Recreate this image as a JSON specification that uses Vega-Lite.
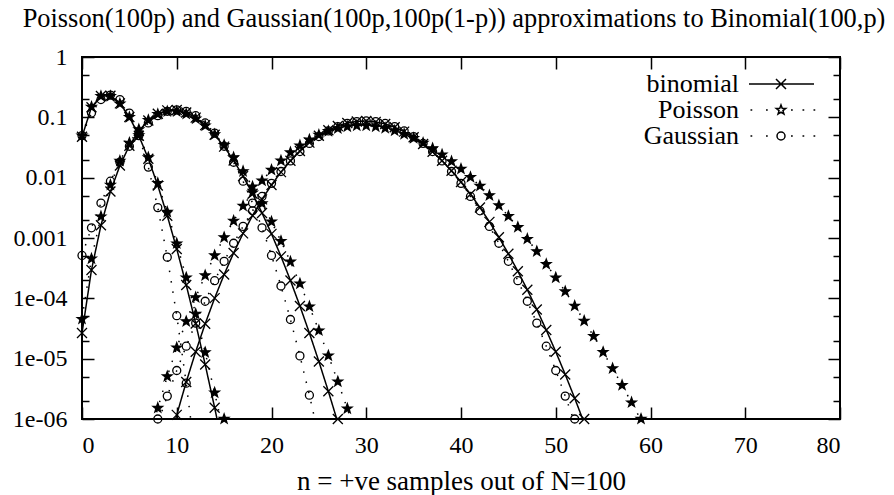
{
"$schema": "https://vega.github.io/schema/vega-lite/v6.json",
"width": 758, "height": 362,
"autosize": {"type": "none"},
"padding": {"left": 82, "top": 57, "right": 54, "bottom": 76},
"background": "white",
"config": {
  "view": {"stroke": "black", "strokeWidth": 2},
  "font": "Liberation Serif",
  "axis": {"grid": false, "domain": false, "tickColor": "black", "tickWidth": 1.5, "labelColor": "black", "labelFont": "Liberation Serif", "labelFontSize": 24, "titleFont": "Liberation Serif", "titleFontSize": 27, "titleFontWeight": "normal", "titleColor": "black"}
},
"title": {"text": "Poisson(100p) and Gaussian(100p,100p(1-p)) approximations to Binomial(100,p)", "font": "Liberation Serif", "fontSize": 26.4, "fontWeight": "normal", "color": "black", "anchor": "middle", "frame": "group", "offset": 13, "baseline": "alphabetic", "dx": -7, "dy": 21},
"data": {"values": [
{"s":"binomial","p":0.03,"n":0,"v":0.04755},{"s":"binomial","p":0.03,"n":1,"v":0.1471},{"s":"binomial","p":0.03,"n":2,"v":0.2252},{"s":"binomial","p":0.03,"n":3,"v":0.2275},{"s":"binomial","p":0.03,"n":4,"v":0.1706},{"s":"binomial","p":0.03,"n":5,"v":0.1013},{"s":"binomial","p":0.03,"n":6,"v":0.04961},{"s":"binomial","p":0.03,"n":7,"v":0.0206},{"s":"binomial","p":0.03,"n":8,"v":0.007408},{"s":"binomial","p":0.03,"n":9,"v":0.002342},{"s":"binomial","p":0.03,"n":10,"v":0.0006591},{"s":"binomial","p":0.03,"n":11,"v":0.0001668},{"s":"binomial","p":0.03,"n":12,"v":0.00003826},{"s":"binomial","p":0.03,"n":13,"v":0.000008009},{"s":"binomial","p":0.03,"n":14,"v":0.000001539},{"s":"binomial","p":0.03,"n":15,"v":2.73e-7},
{"s":"Poisson","p":0.03,"n":0,"v":0.04979},{"s":"Poisson","p":0.03,"n":1,"v":0.1494},{"s":"Poisson","p":0.03,"n":2,"v":0.224},{"s":"Poisson","p":0.03,"n":3,"v":0.224},{"s":"Poisson","p":0.03,"n":4,"v":0.168},{"s":"Poisson","p":0.03,"n":5,"v":0.1008},{"s":"Poisson","p":0.03,"n":6,"v":0.05041},{"s":"Poisson","p":0.03,"n":7,"v":0.0216},{"s":"Poisson","p":0.03,"n":8,"v":0.008102},{"s":"Poisson","p":0.03,"n":9,"v":0.0027},{"s":"Poisson","p":0.03,"n":10,"v":0.0008102},{"s":"Poisson","p":0.03,"n":11,"v":0.000221},{"s":"Poisson","p":0.03,"n":12,"v":0.00005524},{"s":"Poisson","p":0.03,"n":13,"v":0.00001275},{"s":"Poisson","p":0.03,"n":14,"v":0.000002732},{"s":"Poisson","p":0.03,"n":15,"v":5.463e-7},{"s":"Poisson","p":0.03,"n":16,"v":1.024e-7},
{"s":"Gaussian","p":0.03,"n":0,"v":0.04982},{"s":"Gaussian","p":0.03,"n":1,"v":0.1176},{"s":"Gaussian","p":0.03,"n":2,"v":0.1969},{"s":"Gaussian","p":0.03,"n":3,"v":0.2339},{"s":"Gaussian","p":0.03,"n":4,"v":0.1969},{"s":"Gaussian","p":0.03,"n":5,"v":0.1176},{"s":"Gaussian","p":0.03,"n":6,"v":0.04982},{"s":"Gaussian","p":0.03,"n":7,"v":0.01496},{"s":"Gaussian","p":0.03,"n":8,"v":0.003188},{"s":"Gaussian","p":0.03,"n":9,"v":0.0004815},{"s":"Gaussian","p":0.03,"n":10,"v":0.00005159},{"s":"Gaussian","p":0.03,"n":11,"v":0.000003919},{"s":"Gaussian","p":0.03,"n":12,"v":2.112e-7},
{"s":"binomial","p":0.1,"n":0,"v":0.00002656},{"s":"binomial","p":0.1,"n":1,"v":0.0002951},{"s":"binomial","p":0.1,"n":2,"v":0.001623},{"s":"binomial","p":0.1,"n":3,"v":0.005892},{"s":"binomial","p":0.1,"n":4,"v":0.01588},{"s":"binomial","p":0.1,"n":5,"v":0.03387},{"s":"binomial","p":0.1,"n":6,"v":0.05958},{"s":"binomial","p":0.1,"n":7,"v":0.08889},{"s":"binomial","p":0.1,"n":8,"v":0.1148},{"s":"binomial","p":0.1,"n":9,"v":0.1304},{"s":"binomial","p":0.1,"n":10,"v":0.1319},{"s":"binomial","p":0.1,"n":11,"v":0.1199},{"s":"binomial","p":0.1,"n":12,"v":0.09879},{"s":"binomial","p":0.1,"n":13,"v":0.0743},{"s":"binomial","p":0.1,"n":14,"v":0.05131},{"s":"binomial","p":0.1,"n":15,"v":0.03268},{"s":"binomial","p":0.1,"n":16,"v":0.01929},{"s":"binomial","p":0.1,"n":17,"v":0.01059},{"s":"binomial","p":0.1,"n":18,"v":0.005427},{"s":"binomial","p":0.1,"n":19,"v":0.002603},{"s":"binomial","p":0.1,"n":20,"v":0.001171},{"s":"binomial","p":0.1,"n":21,"v":0.0004957},{"s":"binomial","p":0.1,"n":22,"v":0.0001978},{"s":"binomial","p":0.1,"n":23,"v":0.00007452},{"s":"binomial","p":0.1,"n":24,"v":0.00002656},{"s":"binomial","p":0.1,"n":25,"v":0.000008973},{"s":"binomial","p":0.1,"n":26,"v":0.000002875},{"s":"binomial","p":0.1,"n":27,"v":8.758e-7},{"s":"binomial","p":0.1,"n":28,"v":2.54e-7},
{"s":"Poisson","p":0.1,"n":0,"v":0.0000454},{"s":"Poisson","p":0.1,"n":1,"v":0.000454},{"s":"Poisson","p":0.1,"n":2,"v":0.00227},{"s":"Poisson","p":0.1,"n":3,"v":0.007567},{"s":"Poisson","p":0.1,"n":4,"v":0.01892},{"s":"Poisson","p":0.1,"n":5,"v":0.03783},{"s":"Poisson","p":0.1,"n":6,"v":0.06306},{"s":"Poisson","p":0.1,"n":7,"v":0.09008},{"s":"Poisson","p":0.1,"n":8,"v":0.1126},{"s":"Poisson","p":0.1,"n":9,"v":0.1251},{"s":"Poisson","p":0.1,"n":10,"v":0.1251},{"s":"Poisson","p":0.1,"n":11,"v":0.1137},{"s":"Poisson","p":0.1,"n":12,"v":0.09478},{"s":"Poisson","p":0.1,"n":13,"v":0.07291},{"s":"Poisson","p":0.1,"n":14,"v":0.05208},{"s":"Poisson","p":0.1,"n":15,"v":0.03472},{"s":"Poisson","p":0.1,"n":16,"v":0.0217},{"s":"Poisson","p":0.1,"n":17,"v":0.01276},{"s":"Poisson","p":0.1,"n":18,"v":0.007091},{"s":"Poisson","p":0.1,"n":19,"v":0.003732},{"s":"Poisson","p":0.1,"n":20,"v":0.001866},{"s":"Poisson","p":0.1,"n":21,"v":0.0008886},{"s":"Poisson","p":0.1,"n":22,"v":0.0004039},{"s":"Poisson","p":0.1,"n":23,"v":0.0001756},{"s":"Poisson","p":0.1,"n":24,"v":0.00007317},{"s":"Poisson","p":0.1,"n":25,"v":0.00002927},{"s":"Poisson","p":0.1,"n":26,"v":0.00001126},{"s":"Poisson","p":0.1,"n":27,"v":0.000004169},{"s":"Poisson","p":0.1,"n":28,"v":0.000001489},{"s":"Poisson","p":0.1,"n":29,"v":5.135e-7},
{"s":"Gaussian","p":0.1,"n":0,"v":0.0005141},{"s":"Gaussian","p":0.1,"n":1,"v":0.001477},{"s":"Gaussian","p":0.1,"n":2,"v":0.003799},{"s":"Gaussian","p":0.1,"n":3,"v":0.008741},{"s":"Gaussian","p":0.1,"n":4,"v":0.018},{"s":"Gaussian","p":0.1,"n":5,"v":0.03316},{"s":"Gaussian","p":0.1,"n":6,"v":0.05467},{"s":"Gaussian","p":0.1,"n":7,"v":0.08066},{"s":"Gaussian","p":0.1,"n":8,"v":0.1065},{"s":"Gaussian","p":0.1,"n":9,"v":0.1258},{"s":"Gaussian","p":0.1,"n":10,"v":0.133},{"s":"Gaussian","p":0.1,"n":11,"v":0.1258},{"s":"Gaussian","p":0.1,"n":12,"v":0.1065},{"s":"Gaussian","p":0.1,"n":13,"v":0.08066},{"s":"Gaussian","p":0.1,"n":14,"v":0.05467},{"s":"Gaussian","p":0.1,"n":15,"v":0.03316},{"s":"Gaussian","p":0.1,"n":16,"v":0.018},{"s":"Gaussian","p":0.1,"n":17,"v":0.008741},{"s":"Gaussian","p":0.1,"n":18,"v":0.003799},{"s":"Gaussian","p":0.1,"n":19,"v":0.001477},{"s":"Gaussian","p":0.1,"n":20,"v":0.0005141},{"s":"Gaussian","p":0.1,"n":21,"v":0.0001601},{"s":"Gaussian","p":0.1,"n":22,"v":0.00004461},{"s":"Gaussian","p":0.1,"n":23,"v":0.00001112},{"s":"Gaussian","p":0.1,"n":24,"v":0.000002482},{"s":"Gaussian","p":0.1,"n":25,"v":4.956e-7},
{"s":"binomial","p":0.3,"n":9,"v":3.0e-7},{"s":"binomial","p":0.3,"n":10,"v":0.00000117},{"s":"binomial","p":0.3,"n":11,"v":0.000004105},{"s":"binomial","p":0.3,"n":12,"v":0.00001304},{"s":"binomial","p":0.3,"n":13,"v":0.00003784},{"s":"binomial","p":0.3,"n":14,"v":0.0001008},{"s":"binomial","p":0.3,"n":15,"v":0.0002476},{"s":"binomial","p":0.3,"n":16,"v":0.0005638},{"s":"binomial","p":0.3,"n":17,"v":0.001194},{"s":"binomial","p":0.3,"n":18,"v":0.00236},{"s":"binomial","p":0.3,"n":19,"v":0.004365},{"s":"binomial","p":0.3,"n":20,"v":0.007576},{"s":"binomial","p":0.3,"n":21,"v":0.01237},{"s":"binomial","p":0.3,"n":22,"v":0.01903},{"s":"binomial","p":0.3,"n":23,"v":0.02766},{"s":"binomial","p":0.3,"n":24,"v":0.03804},{"s":"binomial","p":0.3,"n":25,"v":0.04956},{"s":"binomial","p":0.3,"n":26,"v":0.06127},{"s":"binomial","p":0.3,"n":27,"v":0.07196},{"s":"binomial","p":0.3,"n":28,"v":0.0804},{"s":"binomial","p":0.3,"n":29,"v":0.08555},{"s":"binomial","p":0.3,"n":30,"v":0.08678},{"s":"binomial","p":0.3,"n":31,"v":0.08398},{"s":"binomial","p":0.3,"n":32,"v":0.07761},{"s":"binomial","p":0.3,"n":33,"v":0.06855},{"s":"binomial","p":0.3,"n":34,"v":0.05788},{"s":"binomial","p":0.3,"n":35,"v":0.04678},{"s":"binomial","p":0.3,"n":36,"v":0.0362},{"s":"binomial","p":0.3,"n":37,"v":0.02683},{"s":"binomial","p":0.3,"n":38,"v":0.01907},{"s":"binomial","p":0.3,"n":39,"v":0.01299},{"s":"binomial","p":0.3,"n":40,"v":0.00849},{"s":"binomial","p":0.3,"n":41,"v":0.005325},{"s":"binomial","p":0.3,"n":42,"v":0.003206},{"s":"binomial","p":0.3,"n":43,"v":0.001853},{"s":"binomial","p":0.3,"n":44,"v":0.001029},{"s":"binomial","p":0.3,"n":45,"v":0.0005487},{"s":"binomial","p":0.3,"n":46,"v":0.0002812},{"s":"binomial","p":0.3,"n":47,"v":0.0001384},{"s":"binomial","p":0.3,"n":48,"v":0.00006551},{"s":"binomial","p":0.3,"n":49,"v":0.0000298},{"s":"binomial","p":0.3,"n":50,"v":0.00001303},{"s":"binomial","p":0.3,"n":51,"v":0.000005473},{"s":"binomial","p":0.3,"n":52,"v":0.00000221},{"s":"binomial","p":0.3,"n":53,"v":8.578e-7},{"s":"binomial","p":0.3,"n":54,"v":3.2e-7},
{"s":"Poisson","p":0.3,"n":7,"v":4.061e-7},{"s":"Poisson","p":0.3,"n":8,"v":0.000001523},{"s":"Poisson","p":0.3,"n":9,"v":0.000005076},{"s":"Poisson","p":0.3,"n":10,"v":0.00001523},{"s":"Poisson","p":0.3,"n":11,"v":0.00004153},{"s":"Poisson","p":0.3,"n":12,"v":0.0001038},{"s":"Poisson","p":0.3,"n":13,"v":0.0002396},{"s":"Poisson","p":0.3,"n":14,"v":0.0005134},{"s":"Poisson","p":0.3,"n":15,"v":0.001027},{"s":"Poisson","p":0.3,"n":16,"v":0.001925},{"s":"Poisson","p":0.3,"n":17,"v":0.003398},{"s":"Poisson","p":0.3,"n":18,"v":0.005663},{"s":"Poisson","p":0.3,"n":19,"v":0.008941},{"s":"Poisson","p":0.3,"n":20,"v":0.01341},{"s":"Poisson","p":0.3,"n":21,"v":0.01916},{"s":"Poisson","p":0.3,"n":22,"v":0.02613},{"s":"Poisson","p":0.3,"n":23,"v":0.03408},{"s":"Poisson","p":0.3,"n":24,"v":0.0426},{"s":"Poisson","p":0.3,"n":25,"v":0.05112},{"s":"Poisson","p":0.3,"n":26,"v":0.05898},{"s":"Poisson","p":0.3,"n":27,"v":0.06554},{"s":"Poisson","p":0.3,"n":28,"v":0.07022},{"s":"Poisson","p":0.3,"n":29,"v":0.07264},{"s":"Poisson","p":0.3,"n":30,"v":0.07264},{"s":"Poisson","p":0.3,"n":31,"v":0.0703},{"s":"Poisson","p":0.3,"n":32,"v":0.0659},{"s":"Poisson","p":0.3,"n":33,"v":0.05991},{"s":"Poisson","p":0.3,"n":34,"v":0.05286},{"s":"Poisson","p":0.3,"n":35,"v":0.04531},{"s":"Poisson","p":0.3,"n":36,"v":0.03776},{"s":"Poisson","p":0.3,"n":37,"v":0.03062},{"s":"Poisson","p":0.3,"n":38,"v":0.02417},{"s":"Poisson","p":0.3,"n":39,"v":0.01859},{"s":"Poisson","p":0.3,"n":40,"v":0.01394},{"s":"Poisson","p":0.3,"n":41,"v":0.0102},{"s":"Poisson","p":0.3,"n":42,"v":0.007288},{"s":"Poisson","p":0.3,"n":43,"v":0.005085},{"s":"Poisson","p":0.3,"n":44,"v":0.003467},{"s":"Poisson","p":0.3,"n":45,"v":0.002311},{"s":"Poisson","p":0.3,"n":46,"v":0.001507},{"s":"Poisson","p":0.3,"n":47,"v":0.0009621},{"s":"Poisson","p":0.3,"n":48,"v":0.0006013},{"s":"Poisson","p":0.3,"n":49,"v":0.0003682},{"s":"Poisson","p":0.3,"n":50,"v":0.0002209},{"s":"Poisson","p":0.3,"n":51,"v":0.0001299},{"s":"Poisson","p":0.3,"n":52,"v":0.00007496},{"s":"Poisson","p":0.3,"n":53,"v":0.00004243},{"s":"Poisson","p":0.3,"n":54,"v":0.00002357},{"s":"Poisson","p":0.3,"n":55,"v":0.00001286},{"s":"Poisson","p":0.3,"n":56,"v":0.000006888},{"s":"Poisson","p":0.3,"n":57,"v":0.000003625},{"s":"Poisson","p":0.3,"n":58,"v":0.000001875},{"s":"Poisson","p":0.3,"n":59,"v":9.535e-7},{"s":"Poisson","p":0.3,"n":60,"v":4.768e-7},
{"s":"Gaussian","p":0.3,"n":7,"v":2.95e-7},{"s":"Gaussian","p":0.3,"n":8,"v":8.611e-7},{"s":"Gaussian","p":0.3,"n":9,"v":0.000002397},{"s":"Gaussian","p":0.3,"n":10,"v":0.000006363},{"s":"Gaussian","p":0.3,"n":11,"v":0.0000161},{"s":"Gaussian","p":0.3,"n":12,"v":0.00003886},{"s":"Gaussian","p":0.3,"n":13,"v":0.00008942},{"s":"Gaussian","p":0.3,"n":14,"v":0.0001962},{"s":"Gaussian","p":0.3,"n":15,"v":0.0004104},{"s":"Gaussian","p":0.3,"n":16,"v":0.0008186},{"s":"Gaussian","p":0.3,"n":17,"v":0.001557},{"s":"Gaussian","p":0.3,"n":18,"v":0.002824},{"s":"Gaussian","p":0.3,"n":19,"v":0.004882},{"s":"Gaussian","p":0.3,"n":20,"v":0.00805},{"s":"Gaussian","p":0.3,"n":21,"v":0.01265},{"s":"Gaussian","p":0.3,"n":22,"v":0.01897},{"s":"Gaussian","p":0.3,"n":23,"v":0.02711},{"s":"Gaussian","p":0.3,"n":24,"v":0.03694},{"s":"Gaussian","p":0.3,"n":25,"v":0.04801},{"s":"Gaussian","p":0.3,"n":26,"v":0.05948},{"s":"Gaussian","p":0.3,"n":27,"v":0.07027},{"s":"Gaussian","p":0.3,"n":28,"v":0.07915},{"s":"Gaussian","p":0.3,"n":29,"v":0.08501},{"s":"Gaussian","p":0.3,"n":30,"v":0.08706},{"s":"Gaussian","p":0.3,"n":31,"v":0.08501},{"s":"Gaussian","p":0.3,"n":32,"v":0.07915},{"s":"Gaussian","p":0.3,"n":33,"v":0.07027},{"s":"Gaussian","p":0.3,"n":34,"v":0.05948},{"s":"Gaussian","p":0.3,"n":35,"v":0.04801},{"s":"Gaussian","p":0.3,"n":36,"v":0.03694},{"s":"Gaussian","p":0.3,"n":37,"v":0.02711},{"s":"Gaussian","p":0.3,"n":38,"v":0.01897},{"s":"Gaussian","p":0.3,"n":39,"v":0.01265},{"s":"Gaussian","p":0.3,"n":40,"v":0.00805},{"s":"Gaussian","p":0.3,"n":41,"v":0.004882},{"s":"Gaussian","p":0.3,"n":42,"v":0.002824},{"s":"Gaussian","p":0.3,"n":43,"v":0.001557},{"s":"Gaussian","p":0.3,"n":44,"v":0.0008186},{"s":"Gaussian","p":0.3,"n":45,"v":0.0004104},{"s":"Gaussian","p":0.3,"n":46,"v":0.0001962},{"s":"Gaussian","p":0.3,"n":47,"v":0.00008942},{"s":"Gaussian","p":0.3,"n":48,"v":0.00003886},{"s":"Gaussian","p":0.3,"n":49,"v":0.0000161},{"s":"Gaussian","p":0.3,"n":50,"v":0.000006363},{"s":"Gaussian","p":0.3,"n":51,"v":0.000002397},{"s":"Gaussian","p":0.3,"n":52,"v":8.611e-7},{"s":"Gaussian","p":0.3,"n":53,"v":2.95e-7}
]},
"layer": [
  {
    "mark": {"type": "line", "clip": true, "strokeWidth": 1.5, "color": "black"},
    "encoding": {
      "x": {"field": "n", "type": "quantitative", "scale": {"domain": [0, 80], "nice": false, "zero": false},
            "axis": {"values": [0,10,20,30,40,50,60,70,80], "tickSize": -12, "labelPadding": 26, "title": "n = +ve samples out of N=100", "titleY": 70, "titleBaseline": "alphabetic"}},
      "y": {"field": "v", "type": "quantitative", "scale": {"type": "log", "domain": [0.000001, 1], "nice": false},
            "axis": {"values": [0.000001,0.000002,0.000005,0.00001,0.00002,0.00005,0.0001,0.0002,0.0005,0.001,0.002,0.005,0.01,0.02,0.05,0.1,0.2,0.5,1],
                     "tickSize": {"condition": {"test": "abs(log(datum.value)/LN10 - round(log(datum.value)/LN10)) > 0.01", "value": -7}, "value": -12},
                     "labelExpr": "abs(log(datum.value)/LN10 - round(log(datum.value)/LN10)) > 0.01 ? '' : (datum.value >= 0.001 ? toString(datum.value) : '1e-0' + toString(-round(log(datum.value)/LN10)))",
                     "labelPadding": 27, "title": null}},
      "detail": [{"field": "s"}, {"field": "p"}],
      "strokeDash": {"condition": {"test": "datum.s === 'binomial'", "value": [1, 0]}, "value": [1.5, 9]}
    }
  },
  {
    "transform": [{"filter": "datum.v >= 5.3e-7"}],
    "mark": {"type": "point", "filled": false, "stroke": "black", "strokeWidth": 1.3, "opacity": 1, "size": 100, "clip": false},
    "encoding": {
      "x": {"field": "n", "type": "quantitative", "scale": {"domain": [0, 80], "nice": false, "zero": false},
            "axis": {"orient": "top", "values": [0,10,20,30,40,50,60,70,80], "labels": false, "tickSize": -12, "title": null}},
      "y": {"field": "v", "type": "quantitative", "scale": {"type": "log", "domain": [0.000001, 1], "nice": false, "clamp": true},
            "axis": {"orient": "right", "values": [0.000001,0.000002,0.000005,0.00001,0.00002,0.00005,0.0001,0.0002,0.0005,0.001,0.002,0.005,0.01,0.02,0.05,0.1,0.2,0.5,1],
                     "tickSize": {"condition": {"test": "abs(log(datum.value)/LN10 - round(log(datum.value)/LN10)) > 0.01", "value": -7}, "value": -12},
                     "labels": false, "title": null}},
      "shape": {"field": "s", "type": "nominal",
                "scale": {"domain": ["binomial", "Poisson", "Gaussian"], "range": ["M-1,-1L1,1M-1,1L1,-1", "M0,-1L0.241,-0.332L0.951,-0.309L0.39,0.127L0.588,0.809L0,0.41L-0.588,0.809L-0.39,0.127L-0.951,-0.309L-0.241,-0.332Z", "M0.8,0A0.8,0.8 0 1,1 -0.8,0A0.8,0.8 0 1,1 0.8,0Z"]},
                "legend": null},
      "fill": {"condition": {"test": "datum.s === 'Poisson'", "value": "black"}, "value": "transparent"}
    }
  },
  {
    "transform": [{"filter": "datum.n < 0"}],
    "mark": {"type": "point", "filled": false, "stroke": "black", "strokeWidth": 1.5, "opacity": 1, "size": 100},
    "encoding": {
      "x": {"field": "n", "type": "quantitative", "scale": {"domain": [0, 80], "nice": false, "zero": false}, "axis": null},
      "y": {"field": "v", "type": "quantitative", "scale": {"type": "log", "domain": [0.000001, 1], "nice": false}, "axis": null},
      "shape": {"field": "s", "type": "nominal",
                "scale": {"domain": ["binomial", "Poisson", "Gaussian"], "range": [
                  "M2.6,0H15.6M8,-1L10,1M8,1L10,-1",
                  "M2.9,0h0.35M6,0h0.35M11,0h0.35M13.3,0h0.35M15.5,0h0.35M9,-1L9.241,-0.332L9.951,-0.309L9.39,0.127L9.588,0.809L9,0.41L8.412,0.809L8.61,0.127L8.049,-0.309L8.759,-0.332Z",
                  "M2.9,0h0.35M6,0h0.35M11,0h0.35M13.3,0h0.35M15.5,0h0.35M9.8,0A0.8,0.8 0 1,1 8.2,0A0.8,0.8 0 1,1 9.8,0Z"]},
                "legend": {"orient": "none", "legendX": 641, "legendY": 14, "title": null, "padding": 0, "labelAlign": "right", "labelOffset": -10, "labelFont": "Liberation Serif", "labelFontSize": 26, "labelColor": "black", "labelLimit": 300, "rowPadding": 0, "symbolSize": 100, "symbolStrokeColor": "black", "symbolStrokeWidth": 1.5, "symbolOpacity": 1,
                           "encode": {"symbols": {
                             "fill": {"condition": {"test": "datum.value === 'Poisson'", "value": "black"}, "value": "transparent"},
                             "stroke": {"value": "black"},
                             "strokeWidth": {"value": 1.5},
                             "size": {"value": 100},
                             "opacity": {"value": 1}
                           }}}}
    }
  }
],
"resolve": {"scale": {"x": "independent", "y": "independent", "shape": "independent"}}
}
